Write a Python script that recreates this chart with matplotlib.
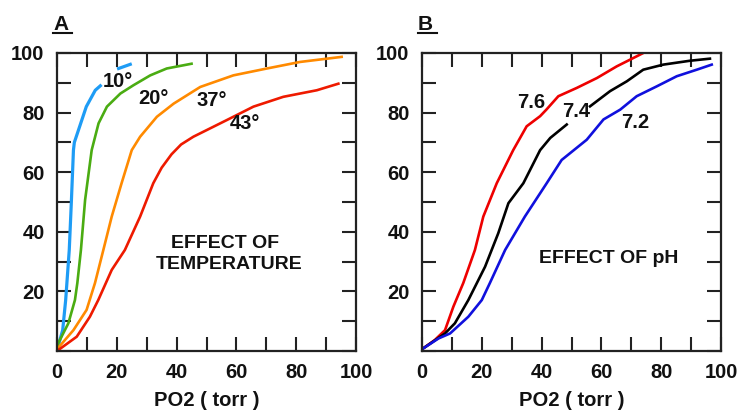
import matplotlib
matplotlib.use("Agg")
import matplotlib.pyplot as plt
from matplotlib.ticker import MultipleLocator

plt.rcParams['font.family'] = ['Liberation Sans', 'DejaVu Sans']
plt.rcParams['font.weight'] = 'bold'

# ---- Panel A: effect of temperature ----
t10_x = [0, 0.5, 1.9, 2.9, 4.1, 4.8, 5.5, 5.8, 7.8, 9.8, 12.8, 14.5]
t10_y = [1.7, 2, 7, 17.1, 33.9, 50, 67.4, 70, 76, 82, 87.5, 89]
t10b_x = [20.6, 24.5]
t10b_y = [94.8, 96.2]
t20_x = [0, 0.4, 3.8, 6.0, 6.8, 8.0, 9.4, 11.6, 13.9, 16.7, 21.2, 25.6, 31.2, 36.7, 45]
t20_y = [1, 2.6, 9.3, 17.1, 22.8, 33.9, 50.7, 67.4, 76.4, 82, 86.4, 89.2, 92.5, 94.8, 96.4]
t37_x = [0, 5.5, 9.9, 12.7, 15.5, 18.3, 21.6, 25, 27.8, 33.4, 39, 47.9, 59, 70.2, 81.3, 95.2]
t37_y = [0.6, 7, 13.8, 22.8, 33.9, 45.1, 56.3, 67.4, 71.9, 78.6, 83, 88.6, 92.5, 94.8, 97, 98.7]
t43_x = [0, 6.6, 11, 13.8, 18.3, 22.7, 27.8, 32.2, 35.0, 38.3, 41.5, 45.6, 56.8, 65.7, 75.7, 86.9, 94.1]
t43_y = [0, 4.8, 11.5, 17.1, 27.2, 33.9, 45.1, 56.3, 61.5, 66.0, 69.3, 71.9, 77.5, 82, 85.3, 87.5, 89.7]
temp_labels = ["10°", "20°", "37°", "43°"]
temp_label_x = [15.4, 27.1, 46.8, 57.9]
temp_label_y = [88.6, 82.9, 82.2, 74.5]

# ---- Panel B: effect of pH ----
ph76_x = [0, 4.3, 7.7, 10.5, 13.8, 17.7, 20.5, 25, 30.5, 35, 39.5, 41.6, 45.6, 51.8, 58.5, 65.1, 74]
ph76_y = [0.6, 3.7, 7, 14.9, 22.8, 33.9, 45.1, 56.3, 67.4, 75.4, 78.8, 81, 85.5, 88.3, 91.6, 95.5, 100]
ph74_x = [0, 7.7, 11, 15.5, 21.1, 25.5, 28.9, 33.9, 39.5, 42.9, 48.4]
ph74_y = [0.6, 5.9, 9.3, 17.1, 28.3, 39.5, 49.6, 56.3, 67.4, 71.5, 76]
ph74b_x = [56.2, 62.9, 68.5, 74, 80.7, 89.6, 96.3]
ph74b_y = [82.1, 87.2, 90.5, 94.4, 96.1, 97.4, 98.1]
ph72_x = [0, 5.5, 9.4, 15.5, 20, 22.7, 27.8, 34.4, 41.7, 46.7, 55.1, 60.7, 66.3, 71.8, 78.5, 85.2, 91.9, 96.9]
ph72_y = [0.6, 4.2, 5.9, 11.5, 17.1, 22.8, 33.9, 45.1, 56.3, 64.1, 70.9, 77.7, 81, 85.5, 88.8, 92.2, 94.4, 96.1]
ph_labels = ["7.6", "7.4", "7.2"]
ph_label_x = [31.8, 46.8, 66.6]
ph_label_y = [81.5, 78.5, 74.8]

x_ticklabels = ["0", "20", "40", "60", "80", "100"]
y_ticklabels = ["20", "40", "60", "80", "100"]

FS = 14.5
fig = plt.figure(figsize=(7.42, 4.13), dpi=100)
axA = fig.add_axes([57/742, 62/413, 299/742, 298/413])
axB = fig.add_axes([422/742, 62/413, 299/742, 298/413])


def style(ax, letter):
    ax.set_xlim(0, 100)
    ax.set_ylim(0, 100)
    ax.xaxis.set_minor_locator(MultipleLocator(10))
    ax.yaxis.set_minor_locator(MultipleLocator(10))
    ax.set_xticks([0, 20, 40, 60, 80, 100])
    ax.set_xticklabels(x_ticklabels)
    ax.set_yticks([20, 40, 60, 80, 100])
    ax.set_yticklabels(y_ticklabels)
    ax.tick_params(which='both', direction='in', top=True, right=True,
                   length=10, width=1.5, color='#222222')
    ax.tick_params(axis='x', pad=9, labelsize=FS)
    ax.tick_params(axis='y', pad=9, labelsize=FS)
    for lab in ax.get_xticklabels() + ax.get_yticklabels():
        lab.set_fontweight('bold')
        lab.set_color('#111111')
    for sp in ax.spines.values():
        sp.set_linewidth(1.6)
        sp.set_color('#222222')
    ax.set_xlabel("PO2 ( torr )", fontsize=FS, fontweight='bold', labelpad=6, color='#111111')
    ax.text(-0.013, 1.077, letter, transform=ax.transAxes, fontsize=15,
            fontweight='bold', ha='left', va='baseline', color='#111111')
    ax.plot([-0.013, 0.05], [1.067, 1.067], transform=ax.transAxes,
            color='#111111', lw=1.5, clip_on=False)


style(axA, "A")
style(axB, "B")

axA.plot(t10_x, t10_y, color='#1e9cf5', lw=2.3)
axA.plot(t10b_x, t10b_y, color='#1e9cf5', lw=2.3)
axA.plot(t20_x, t20_y, color='#4aac12', lw=1.9)
axA.plot(t37_x, t37_y, color='#ff8a00', lw=1.9)
axA.plot(t43_x, t43_y, color='#ee1a00', lw=1.9)
for s, x, y in zip(temp_labels, temp_label_x, temp_label_y):
    axA.text(x, y, s, fontsize=FS, fontweight='bold', ha='left', va='baseline', color='#111111')
axA.text(56.2, 34.6, "EFFECT OF", fontsize=14, fontweight='bold',
         ha='center', va='baseline', color='#111111')
axA.text(57.5, 27.5, "TEMPERATURE", fontsize=14, fontweight='bold',
         ha='center', va='baseline', color='#111111')

axB.plot(ph76_x, ph76_y, color='#ee0000', lw=1.9)
axB.plot(ph74_x, ph74_y, color='#000000', lw=1.9)
axB.plot(ph74b_x, ph74b_y, color='#000000', lw=1.9)
axB.plot(ph72_x, ph72_y, color='#1010dd', lw=1.9)
for s, x, y in zip(ph_labels, ph_label_x, ph_label_y):
    axB.text(x, y, s, fontsize=FS, fontweight='bold', ha='left', va='baseline', color='#111111')
axB.text(62.5, 29.5, "EFFECT OF pH", fontsize=14, fontweight='bold',
         ha='center', va='baseline', color='#111111')

fig.savefig("out.png", dpi=100, facecolor='white')
